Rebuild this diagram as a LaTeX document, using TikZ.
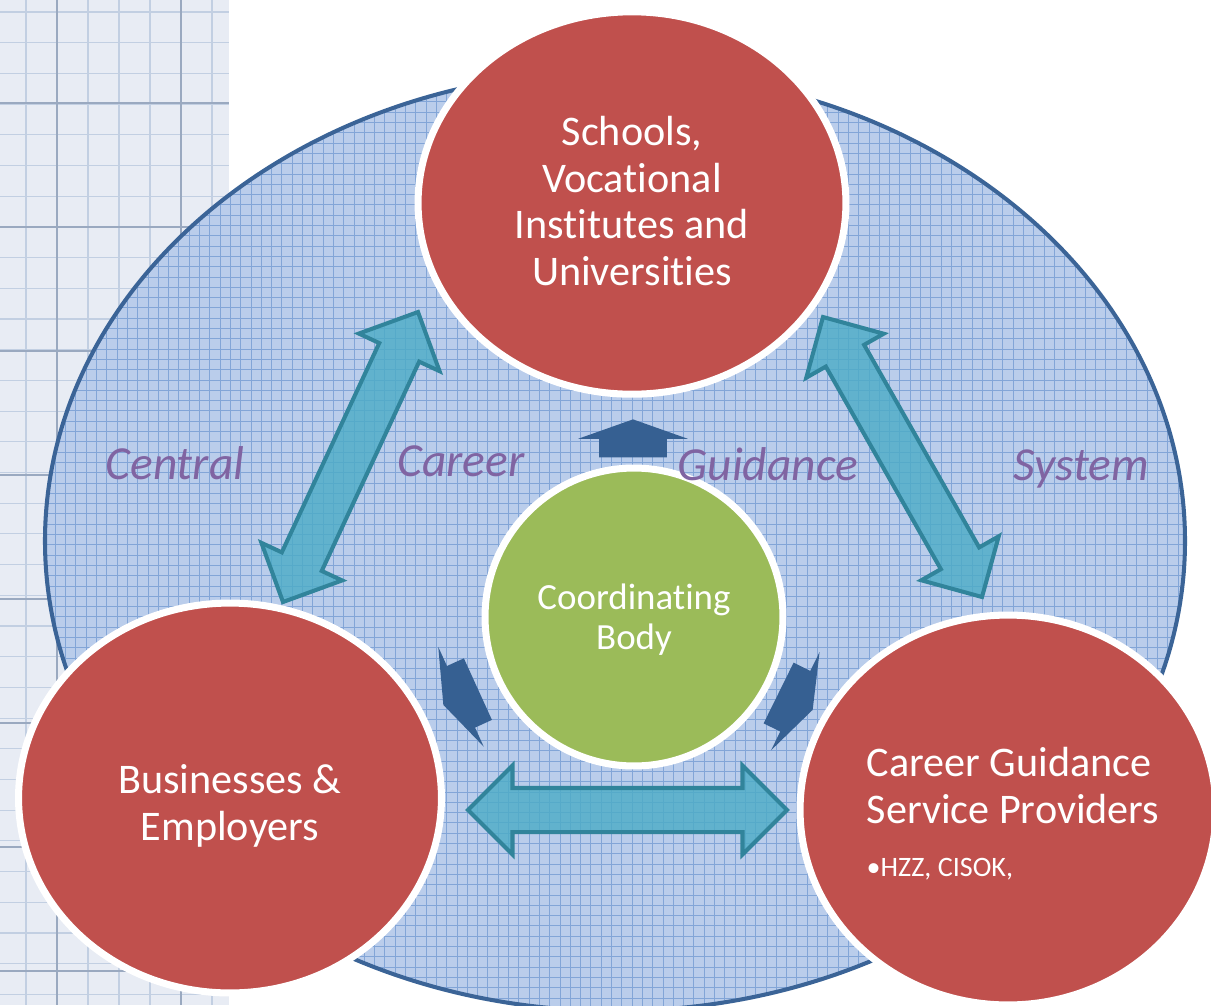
\documentclass[tikz,border=0pt]{standalone}
\usepackage{fontspec}
\setmainfont[Ligatures=NoCommon]{Carlito}
\usetikzlibrary{shapes.geometric,shapes.arrows,calc}

\definecolor{ballred}{HTML}{C0504D}
\definecolor{ballgreen}{HTML}{9BBB59}
\definecolor{wordpurple}{HTML}{8064A2}
\definecolor{teal}{HTML}{4BACC6}
\definecolor{tealdark}{HTML}{31849B}
\definecolor{pushblue}{HTML}{366092}
\definecolor{rimblue}{HTML}{3B6497}
\definecolor{panelbg}{HTML}{E8ECF4}
\definecolor{panelline}{HTML}{C2CFE2}
\definecolor{paneldark}{HTML}{9AA9C0}
\definecolor{meshbg}{HTML}{BACDEB}
\definecolor{meshline}{HTML}{82A5D7}

\begin{document}
\begin{tikzpicture}[x=0.02cm, y=-0.02cm,
        redball/.style={ellipse, fill=ballred, draw=white, line width=4pt, inner sep=0pt},
        greenball/.style={ellipse, fill=ballgreen, draw=white, line width=4pt, inner sep=0pt},
        balltext/.style={text=white, align=center, font=\fontsize{24}{26.6}\selectfont},
        fatarrow/.style={double arrow, fill=teal, fill opacity=0.8, draw=tealdark, line width=2.3pt,
            inner xsep=0pt, inner ysep=0.4cm, double arrow head extend=0.45cm, double arrow tip angle=90},
        pusharrow/.style={single arrow, fill=pushblue, anchor=tip, minimum height=0.76cm,
            inner xsep=0pt, inner ysep=0.67cm, single arrow head extend=0.42cm, single arrow tip angle=141},
        sysword/.style={text=wordpurple, anchor=base, font=\fontsize{27}{32}\selectfont\itshape},
    ]
    \useasboundingbox (0,0) rectangle (1211,1005);
    \clip (0,0) rectangle (1211,1005);

    % graph paper strip on the left
    \fill[panelbg] (0,0) rectangle (229,1005);
    \foreach \gx in {26,57,...,229}
        \draw[panelline, line width=0.6pt] (\gx,0) -- (\gx,1005);
    \foreach \gy in {12,42.7,...,1005}
        \draw[panelline, line width=0.6pt] (0,\gy) -- (229,\gy);
    \foreach \gx in {57,181}
        \draw[paneldark, line width=0.6pt] (\gx,0) -- (\gx,1005);
    \foreach \gy in {103,227,351,475,599,723,847,971}
        \draw[paneldark, line width=0.6pt] (0,\gy) -- (229,\gy);

    % the system ellipse
    \begin{scope}
        \clip (615,541) ellipse [x radius=570, y radius=470];
        \fill[meshbg] (40,60) rectangle (1190,1010);
        \foreach \gx in {45,55.3,...,1190}
            \draw[meshline, line width=0.5pt] (\gx,60) -- (\gx,1010);
        \foreach \gy in {71,81.3,...,1010}
            \draw[meshline, line width=0.5pt] (40,\gy) -- (1190,\gy);
    \end{scope}
    \draw[rimblue, line width=2.3pt] (615,541) ellipse [x radius=570, y radius=470];

    % tips of the two-way arrows
    \coordinate (lt1) at (418,312);
    \coordinate (lt2) at (283,602);
    \coordinate (rt1) at (823,317);
    \coordinate (rt2) at (982,597);
    \coordinate (bt1) at (468,810);
    \coordinate (bt2) at (787,810);

    \foreach \a/\b in {lt1/lt2, rt1/rt2, bt1/bt2}
        \path let \p1=($(\b)-(\a)$), \n1={atan2(\y1,\x1)}, \n2={veclen(\x1,\y1)} in
            node[fatarrow, rotate=\n1, minimum height=\n2] at ($(\a)!0.5!(\b)$) {};

    % arrows out of the coordinating body
    \node[pusharrow, rotate=90] (pushup) at (633,419) {};
    \node[pusharrow, rotate=204.5] (pushleft) at (443,705) {};
    \node[pusharrow, rotate=-26.3] (pushright) at (813,710) {};

    \node[redball, minimum width=8.56cm, minimum height=7.65cm] (school) at (632,203) {};
    \node[redball, minimum width=8.46cm, minimum height=7.8cm] (business) at (230,798) {};
    \node[redball, minimum width=8.32cm, minimum height=7.8cm] (provider) at (1008,810) {};
    \node[greenball, minimum width=5.96cm, minimum height=5.96cm] (coord) at (634,617) {};

    \node[balltext] (schoolText) at (632,201) {Schools,\\Vocational\\Institutes and\\Universities};
    \node[balltext] (businessText) at (230,806) {Businesses \&\\Employers};
    \node[balltext, align=left] (providerText) at (1013,814)
        {Career Guidance\\Service Providers\\[3.6pt]{\fontsize{16}{19}\selectfont\textbullet HZZ, CISOK,}};
    \node[text=white, align=center, font=\fontsize{21}{22.7}\selectfont] (coordText) at (634,620) {Coordinating\\Body};

    \node[sysword] (wCentral) at (175,479) {Central};
    \node[sysword] (wCareer) at (461,476) {Career};
    \node[sysword] (wGuidance) at (768,480) {Guidance};
    \node[sysword] (wSystem) at (1081,480) {System};
\end{tikzpicture}
\end{document}
